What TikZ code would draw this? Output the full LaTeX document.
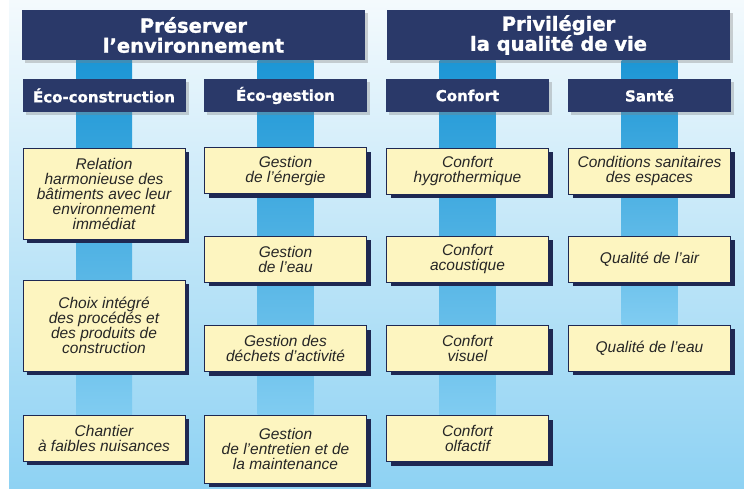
\documentclass[tikz,border=0pt]{standalone}
\usepackage{fontspec}
\setmainfont{Liberation Sans}
\newfontfamily\headfont{DejaVu Sans}[BoldFeatures={FakeBold=1.3}]
\usetikzlibrary{calc,shadows}

\definecolor{navy}{RGB}{42,57,105}
\definecolor{navyshade}{RGB}{30,40,82}
\definecolor{boxyellow}{RGB}{253,245,192}
\definecolor{bartop}{RGB}{28,150,213}
\definecolor{barbottom}{RGB}{128,204,241}
\definecolor{skytop}{RGB}{244,250,253}
\definecolor{skybottom}{RGB}{142,210,243}

\pgfdeclarelayer{sky}
\pgfdeclarelayer{bars}
\pgfsetlayers{sky,bars,main}

\tikzset{
  theme/.style={fill=navy,text=white,align=center,inner sep=0pt,
    font=\headfont\bfseries\fontsize{19.5}{20}\selectfont,
    minimum width=343pt,minimum height=50pt,
    drop shadow={shadow xshift=3pt,shadow yshift=-3pt,fill=gray,opacity=.35}},
  subtheme/.style={theme,font=\headfont\bfseries\fontsize{15}{16}\selectfont,
    minimum width=163pt,minimum height=33pt},
  item/.style={draw=navyshade,line width=0.7pt,fill=boxyellow,text=black!85,
    align=center,inner sep=0pt,font=\itshape\fontsize{15.5}{15}\selectfont,
    minimum width=162pt,minimum height=46pt,
    drop shadow={shadow xshift=4pt,shadow yshift=-4pt,fill=navyshade,opacity=1}},
  bar/.style={top color=bartop,bottom color=barbottom,draw=none}
}

\begin{document}
\begin{tikzpicture}[x=1pt,y=-1pt]

\useasboundingbox (0,0) rectangle (744,488);

% colonnes
\def\xa{104}
\def\xb{285.5}
\def\xc{467.5}
\def\xd{649.5}

%=== Fond ===
\begin{pgfonlayer}{sky}
  \shade[top color=skytop,bottom color=skybottom] (9,0) rectangle (744,488);
\end{pgfonlayer}

%=== Grands objectifs ===
\node[theme] (pres) at (193.5,35) {Préserver\\l’environnement};
\node[theme] (priv) at (558.5,35) {Privilégier\\la qualité de vie};

%=== Familles ===
\node[subtheme] (ecocons) at (\xa,95.5) {Éco-construction};
\node[subtheme] (ecogest) at (\xb,95.5) {Éco-gestion};
\node[subtheme] (confort) at (\xc,95.5) {Confort};
\node[subtheme] (sante)   at (\xd,95.5) {Santé};

%=== Cibles ===
% Éco-construction
\node[item,minimum height=91pt] (relation) at (\xa,193.5)
  {Relation\\harmonieuse des\\bâtiments avec leur\\environnement\\immédiat};
\node[item,minimum height=91pt] (choix) at (\xa,325.5)
  {Choix intégré\\des procédés et\\des produits de\\construction};
\node[item] (chantier) at (\xa,438) {Chantier\\à faibles nuisances};

% Éco-gestion
\node[item] (energie) at (\xb,170.5) {Gestion\\de l’énergie};
\node[item] (eau) at (\xb,259) {Gestion\\de l’eau};
\node[item] (dechets) at (\xb,348.5) {Gestion des\\déchets d’activité};
\node[item,minimum height=68pt] (entretien) at (\xb,449)
  {Gestion\\de l’entretien et de\\la maintenance};

% Confort
\node[item] (hygro) at (\xc,171) {Confort\\hygrothermique};
\node[item] (acoust) at (\xc,259) {Confort\\acoustique};
\node[item] (visuel) at (\xc,348) {Confort\\visuel};
\node[item] (olfact) at (\xc,438.5) {Confort\\olfactif};

% Santé
\node[item] (sanit) at (\xd,171) {Conditions sanitaires\\des espaces};
\node[item] (air) at (\xd,259) {Qualité de l’air};
\node[item] (eaus) at (\xd,348) {Qualité de l’eau};

%=== Barres verticales ===
\begin{pgfonlayer}{bars}
  \foreach \head/\col/\last in {pres/ecocons/chantier,pres/ecogest/entretien,
                                priv/confort/olfact,priv/sante/eaus}
    \shade[bar] ($(\col.center |- \head.south)+(-28,0)$)
      rectangle ($(\col.center |- \last.north)+(28,0)$);
\end{pgfonlayer}

\end{tikzpicture}
\end{document}
